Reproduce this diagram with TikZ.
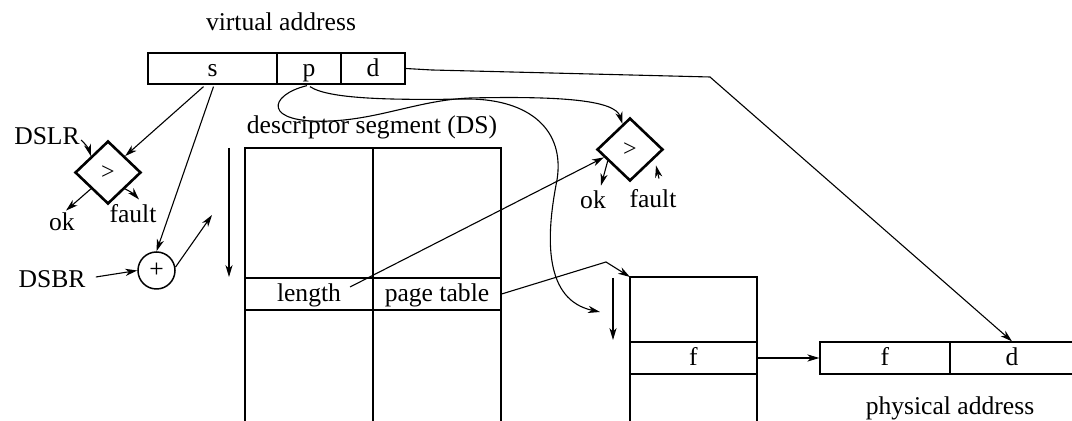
\documentclass[tikz,border=0pt]{standalone}
\usepackage{fontspec}
\setmainfont{Liberation Serif}
\usetikzlibrary{shapes.geometric,arrows.meta,calc}

\begin{document}
\begin{tikzpicture}[x=0.5pt,y=-0.5pt,
  every node/.style={font=\fontsize{12.8}{14}\selectfont,inner sep=1pt},
  cell/.style={draw,line width=0.65pt,inner sep=0,minimum height=16pt,
    text height=9.5pt,text depth=1.5pt},
  cmp/.style={draw,diamond,line width=1.3pt,minimum width=33pt,
    minimum height=31.5pt,inner sep=0,font=\fontsize{12}{12}\selectfont},
  adder/.style={draw,circle,line width=0.75pt,minimum size=18.5pt,inner sep=0},
  link/.style={line width=0.55pt,-{Stealth[length=6pt,width=3.6pt,inset=1.8pt]}},
  frame/.style={line width=0.65pt}
]
\useasboundingbox (0,0) rectangle (1072,421);

% virtual address
\node (vlabel) at (281,22) {virtual address};
\node[cell,minimum height=15.5pt,minimum width=64.5pt] (vs) at (212.5,68.5) {s};
\node[cell,minimum height=15.5pt,minimum width=32pt] (vp) at (309,68.5) {p};
\node[cell,minimum height=15.5pt,minimum width=32pt] (vd) at (373,68.5) {d};

% segment length check and base addition
\node (dslr) at (47,136) {DSLR};
\node[cmp] (dL) at (108,172.5) {>};
\node (okL) at (62,222) {ok};
\node (faultL) at (133,214) {fault};
\node (dsbr) at (52,279) {DSBR};
\node[adder] (sum) at (156.5,270.5) {+};
\coordinate (dsent) at (212,215);

\draw[link] ($(dslr.east)+(-1,4)$) to[bend left=15] (dL.north west);
\draw[link] ($(vs.south)+(-9,2)$) -- (dL.north east);
\draw[link] (dL.south west) -- ($(okL.north)+(4,0)$);
\draw[link] (dL.south east) to[bend left=10] ($(faultL.north)+(6,-3)$);
\draw[link] ($(vs.south)+(1,2)$) -- (sum.north);
\draw[link] ($(dsbr.east)+(8,-2)$) -- (sum.west);
\draw[link] (sum.10) -- (dsent);

% descriptor segment
\node (dslabel) at (372,127) {descriptor segment (DS)};
\draw[frame] (245,425) -- (245,148) -- (501,148) -- (501,425);
\draw[frame] (373,148) -- (373,425);
\node[cell,minimum width=64pt] (len) at (309,294) {length};
\node[cell,minimum width=64pt] (ptab) at (437,294) {page table};
\coordinate (dsidxa) at (229,148);
\coordinate (dsidxb) at (229,277);
\draw[link] (dsidxa) -- (dsidxb);

% page length check
\node[cmp] (dR) at (630,149.5) {>};
\node (okR) at (593,200) {ok};
\node (faultR) at (653,199) {fault};
\draw[link] ($(dR.west)!0.35!(dR.south)$) -- ($(okR.north)+(8,-3)$);
\draw[link] ($(faultR.north)+(6,-9)$) -- ($(faultR.north)+(3,-22)$);
\draw[link] ($(len.center)+(41,-7)$) -- ($(dR.west)!0.24!(dR.south)$);

% page number paths
\draw[link] ($(vp.south)+(-2,1)$) .. controls (268,95) and (262,124) .. (330,121)
  .. controls (380,119) and (420,100) .. (470,98)
  .. controls (560,96) and (615,100) .. ($(dR.north)!0.22!(dR.west)$);
\coordinate (pgidx) at (600,312);
\draw[link] ($(vp.south)+(1,2)$) .. controls (330,100) and (400,100) .. (470,99)
  .. controls (530,100) and (565,130) .. (557,180)
  .. controls (545,240) and (545,300) .. (pgidx);

% page table
\coordinate (pgtop) at (630,277);
\draw[frame] (630,425) -- (pgtop) -- (757,277) -- (757,425);
\node[cell,minimum width=63.5pt] (pf) at (693.5,358) {f};
\draw[link] (ptab.east) -- (606,262) -- (pgtop);
\coordinate (ptidxa) at (613,278);
\coordinate (ptidxb) at (613,340);
\draw[link] (ptidxa) -- (ptidxb);

% physical address
\node[cell,minimum width=65pt] (paf) at (885,358) {f};
\node[cell,minimum width=62pt] (pad) at (1012,358) {d};
\node (plabel) at (950,408) {physical address};
\draw[link] (pf.east) -- (paf.west);
\draw[link] (vd.east) -- (432,70) -- (710,77) -- (pad.north);
\end{tikzpicture}
\end{document}
